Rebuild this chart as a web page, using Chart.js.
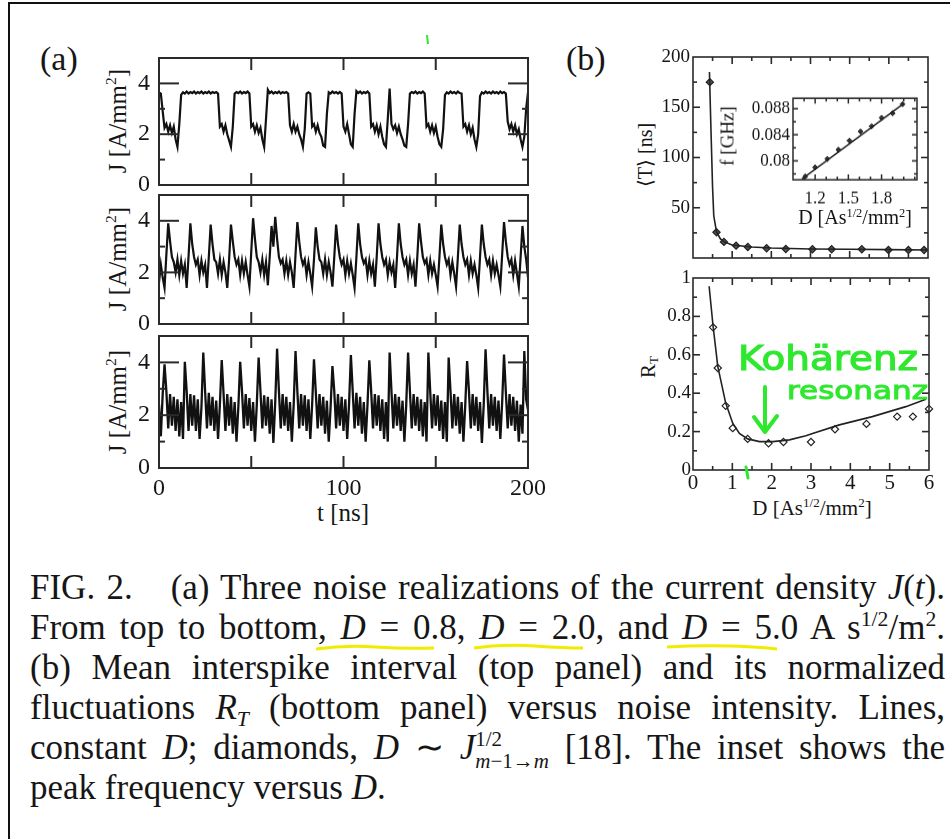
<!DOCTYPE html>
<html lang="en">
<head>
    <meta charset="UTF-8">
    <title>FIG. 2 - current density and interspike statistics</title>
    <script src="https://cdn.jsdelivr.net/npm/chart.js"></script>
    <style>
        body {
            margin: 0;
            width: 950px;
            height: 839px;
            position: relative;
            overflow: hidden;
            background: #fff;
            color: #161616;
            font-family: 'Liberation Serif', 'Times New Roman', serif;
        }
        .edge-top { position: absolute; left: 8px; top: 2px; width: 942px; height: 2px; background: #111; }
        .edge-left { position: absolute; left: 8px; top: 2px; width: 2px; height: 837px; background: #111; }
        canvas { position: absolute; }
        .lbl { position: absolute; white-space: nowrap; line-height: 1; }
        .rot { transform: translate(-50%, -50%) rotate(-90deg); }
        .ctr { transform: translate(-50%, -50%); }
        .lbl sup { font-size: 0.62em; vertical-align: 0.6em; line-height: 0; }
        .lbl sub { font-size: 0.62em; vertical-align: -0.25em; line-height: 0; }
        .caption {
            position: absolute;
            left: 30px;
            top: 568px;
            width: 915px;
            font-size: 35px;
            line-height: 40px;
        }
        .caption div { height: 40px; text-align: justify; text-align-last: justify; }
        .caption div.last { text-align-last: left; }
        .caption sup { font-size: 0.62em; vertical-align: 0.62em; line-height: 0; }
        .caption sub { font-size: 0.62em; vertical-align: -0.3em; line-height: 0; }
        .ss { display: inline-block; vertical-align: -0.42em; font-size: 0.6em; line-height: 1.05; text-align: left; }
        .ss span { display: block; }
        .gap { display: inline-block; width: 38px; }
        svg.ink { position: absolute; left: 0; top: 0; pointer-events: none; z-index: 3; }
    </style>
</head>
<body>
    <div class="edge-top"></div>
    <div class="edge-left"></div>

    <div class="lbl" style="left:40px; top:42px; font-size:34px;">(a)</div>
    <div class="lbl" style="left:566px; top:42px; font-size:34px;">(b)</div>

    <div class="lbl rot" style="left:117px; top:121px; font-size:25px;">J [A/mm<sup>2</sup>]</div>
    <div class="lbl rot" style="left:117px; top:259px; font-size:25px;">J [A/mm<sup>2</sup>]</div>
    <div class="lbl rot" style="left:117px; top:402px; font-size:25px;">J [A/mm<sup>2</sup>]</div>
    <div class="lbl ctr" style="left:343px; top:512px; font-size:25px;">t [ns]</div>

    <div class="lbl rot" style="left:645px; top:155px; font-size:20px;">&#x27E8;T&#x27E9; [ns]</div>
    <div class="lbl rot" style="left:648px; top:367px; font-size:21px;">R<sub>T</sub></div>
    <div class="lbl ctr" style="left:812px; top:508px; font-size:21px;">D [As<sup>1/2</sup>/mm<sup>2</sup>]</div>

    <div id="inset-labels"></div>

    <div class="caption">
        <div>FIG. 2.<span class="gap"></span>(a) Three noise realizations of the current density <i>J</i>(<i>t</i>).</div>
        <div>From top to bottom, <i>D</i> = 0.8, <i>D</i> = 2.0, and <i>D</i> = 5.0 A s<sup>1/2</sup>/m<sup>2</sup>.</div>
        <div>(b) Mean interspike interval (top panel) and its normalized</div>
        <div>fluctuations <i>R<sub>T</sub></i> (bottom panel) versus noise intensity. Lines,</div>
        <div>constant <i>D</i>; diamonds, <i>D</i> &#x223C; <i>J</i><span class="ss"><span>1/2</span><span><i>m</i>&#x2212;1&#x2192;<i>m</i></span></span> [18]. The inset shows the</div>
        <div class="last">peak frequency versus <i>D</i>.</div>
    </div>

    <script>
        // time grid of panel (a), ns
        const tNs = Array.from({ length: 201 }, (_, i) => i);

        // J(t), one value per ns
        const jD08 = [
            3.65, 3.6, 2.9, 2.25, 2.4, 2.1, 2.35, 2.05, 2.3, 1.8,
            1.5, 2.4, 3.55, 3.65, 3.6, 3.68, 3.6, 3.66, 3.62, 3.68,
            3.6, 3.66, 3.62, 3.68, 3.6, 3.66, 3.62, 3.68, 3.6, 3.66,
            3.62, 3.66, 3.6, 2.3, 2.4, 2.1, 2.35, 2.0, 1.75, 1.5,
            2.3, 3.6, 3.66, 3.62, 3.68, 3.6, 3.66, 3.62, 3.68, 3.6,
            2.3, 2.4, 2.1, 2.35, 2.05, 2.25, 1.8, 1.5, 2.6, 3.75,
            3.62, 3.68, 3.6, 3.66, 3.62, 3.68, 3.6, 3.66, 3.62, 3.66,
            3.6, 2.35, 2.1, 2.4, 2.1, 2.3, 2.0, 1.8, 1.5, 2.2,
            3.6, 3.65, 3.6, 2.3, 2.4, 2.1, 2.35, 2.05, 1.9, 1.55,
            1.5, 2.8, 3.65, 3.6, 3.68, 3.62, 3.66, 3.6, 3.66, 3.6,
            2.3, 2.1, 2.4, 2.0, 1.6, 1.5, 2.8, 3.7, 3.62, 3.68,
            3.6, 3.66, 3.62, 3.68, 3.6, 2.3, 2.4, 2.1, 2.35, 2.0,
            2.3, 1.9, 1.6, 1.5, 2.6, 3.8, 2.4, 2.2, 2.35, 2.05,
            2.3, 2.0, 1.8, 1.55, 1.5, 2.4, 3.6, 3.66, 3.62, 3.68,
            3.6, 3.66, 3.62, 3.68, 3.6, 2.3, 2.4, 2.1, 2.35, 2.05,
            2.3, 1.9, 1.6, 1.5, 2.2, 3.55, 3.65, 3.6, 3.68, 3.62,
            3.66, 3.6, 3.68, 3.62, 3.6, 2.3, 2.4, 2.1, 2.35, 2.0,
            2.25, 1.8, 1.5, 2.0, 3.5, 3.65, 3.6, 3.68, 3.62, 3.66,
            3.6, 3.68, 3.62, 3.66, 3.6, 3.68, 3.62, 3.66, 3.6, 2.5,
            2.2, 2.4, 2.1, 2.35, 2.0, 2.2, 1.8, 1.5, 1.9, 3.0,
            3.65
        ];
        const jD20 = [
            1.6, 2.3, 1.8, 1.4, 2.7, 3.9, 3.2, 2.6, 2.4, 2.0,
            2.5, 1.9, 2.45, 1.95, 2.3, 1.4, 2.6, 3.9, 3.1, 2.6,
            2.3, 2.5, 1.9, 2.45, 2.0, 2.3, 1.4, 2.6, 3.85, 3.1,
            2.5, 2.4, 1.95, 2.5, 1.9, 2.4, 2.0, 1.4, 2.5, 3.85,
            3.2, 2.6, 2.3, 2.5, 1.9, 2.45, 1.95, 2.4, 1.9, 1.45,
            2.8, 4.1, 3.3, 2.6, 2.4, 2.0, 2.5, 1.9, 2.4, 1.5,
            2.6, 3.8, 3.0, 4.15, 3.3, 2.6, 2.35, 2.5, 1.95, 2.45,
            1.9, 2.4, 2.0, 1.4, 2.7, 3.95, 3.2, 2.6, 2.3, 2.5,
            1.9, 2.4, 1.95, 1.45, 2.5, 3.75, 3.0, 2.5, 2.4, 1.95,
            2.5, 1.9, 2.4, 2.0, 1.45, 2.6, 3.85, 3.1, 2.6, 2.3,
            2.5, 1.9, 2.45, 1.95, 2.35, 1.9, 1.4, 2.6, 3.9, 3.1,
            2.6, 2.35, 2.5, 1.9, 2.45, 1.95, 2.3, 1.45, 2.6, 3.9,
            3.1, 2.6, 2.3, 2.5, 1.9, 2.4, 2.0, 2.3, 1.4, 2.6,
            3.9, 3.1, 2.6, 2.3, 2.5, 1.9, 2.45, 1.95, 2.3, 1.45,
            2.6, 3.9, 3.2, 2.6, 2.35, 2.5, 1.9, 2.45, 1.95, 2.3,
            1.9, 1.45, 2.6, 3.85, 3.1, 2.6, 2.3, 2.5, 1.9, 2.4,
            1.95, 1.45, 2.6, 3.85, 3.1, 2.6, 2.3, 2.5, 1.9, 2.45,
            1.95, 2.3, 1.9, 1.4, 2.6, 3.85, 3.1, 2.6, 2.3, 2.5,
            1.9, 2.45, 1.95, 2.3, 1.9, 1.45, 2.7, 3.95, 3.2, 2.6,
            2.3, 2.5, 1.9, 2.45, 1.95, 1.45, 2.6, 3.8, 3.0, 2.5,
            1.8
        ];
        const jD50 = [
            2.4, 1.2, 2.8, 3.93, 2.9, 1.5, 2.8, 1.6, 2.7, 1.4,
            2.6, 1.2, 2.5, 1.1, 4.02, 2.9, 1.4, 2.8, 1.6, 2.75,
            1.4, 2.6, 1.1, 2.3, 4.37, 2.9, 1.5, 2.85, 1.6, 2.7,
            1.4, 2.55, 1.1, 2.4, 4.09, 2.8, 1.4, 2.8, 1.6, 2.7,
            1.3, 2.5, 1.0, 2.3, 4.02, 2.9, 1.5, 2.8, 1.6, 2.65,
            1.4, 2.5, 1.0, 2.4, 4.18, 2.9, 1.5, 2.75, 1.6, 2.7,
            1.3, 2.6, 0.95, 2.5, 4.52, 2.9, 1.5, 2.8, 1.6, 2.7,
            1.4, 2.5, 1.0, 2.4, 4.43, 2.9, 1.5, 2.8, 1.6, 2.75,
            1.4, 2.6, 1.1, 2.4, 4.12, 2.85, 1.5, 2.8, 1.6, 2.7,
            1.3, 2.55, 1.0, 2.3, 3.86, 2.9, 1.5, 2.8, 1.6, 2.7,
            1.4, 2.6, 1.1, 2.4, 4.28, 2.9, 1.5, 2.85, 1.6, 2.7,
            1.3, 2.5, 1.0, 2.4, 4.08, 2.9, 1.5, 2.8, 1.6, 2.75,
            1.4, 2.6, 1.1, 2.5, 1.0, 4.37, 2.9, 1.5, 2.8, 1.6,
            2.7, 1.4, 2.55, 1.0, 2.4, 4.37, 2.9, 1.5, 2.8, 1.6,
            2.7, 1.4, 2.6, 1.2, 2.5, 1.0, 4.37, 2.9, 1.5, 2.8,
            1.6, 2.75, 1.4, 2.55, 1.1, 2.5, 1.0, 4.18, 2.9, 1.5,
            2.8, 1.6, 2.7, 1.3, 2.5, 1.0, 2.4, 4.05, 2.9, 1.5,
            2.8, 1.6, 2.7, 1.4, 2.5, 0.95, 2.4, 4.5, 2.9, 1.5,
            2.8, 1.6, 2.7, 1.4, 2.55, 1.1, 2.5, 4.3, 2.85, 1.5,
            2.8, 1.6, 2.7, 1.4, 2.55, 1.0, 2.4, 1.3, 4.43, 2.6,
            2.2
        ];

        // (b) top: mean interspike interval <T> vs D
        const tLineD = [0.42, 0.45, 0.5, 0.53, 0.6, 0.7, 0.8, 1.0, 1.5, 2.0, 3.0, 4.0, 5.0, 6.0];
        const tLine = [185, 140, 70, 42, 26, 19, 16, 13, 11, 10, 9, 8.7, 8.3, 8];
        const tDiaD = [0.43, 0.6, 0.79, 1.1, 1.4, 1.88, 2.37, 3.05, 3.54, 4.31, 4.99, 5.5, 5.9];
        const tDia = [175, 25.6, 16, 12.3, 11, 9.7, 9, 8.7, 8.7, 8.7, 8, 8, 8];

        // inset: peak frequency vs D
        const fDiaD = [1.11, 1.2, 1.31, 1.41, 1.51, 1.61, 1.71, 1.8, 1.9, 1.99];
        const fDia = [0.0776, 0.079, 0.0803, 0.0817, 0.0831, 0.0845, 0.0853, 0.0866, 0.0873, 0.0887];
        const fLineD = [1.08, 2.0];
        const fLine = [0.0772, 0.0888];

        // (b) bottom: normalized fluctuations R_T vs D
        const rLineD = [0.41, 0.51, 0.63, 0.83, 1.01, 1.18, 1.39, 1.69, 2.03, 2.45, 2.87, 3.04, 3.72, 4.56, 5.41, 5.92];
        const rLine = [0.957, 0.75, 0.54, 0.35, 0.244, 0.19, 0.162, 0.148, 0.148, 0.157, 0.178, 0.19, 0.235, 0.278, 0.33, 0.369];
        const rDiaD = [0.51, 0.63, 0.83, 1.01, 1.39, 1.92, 2.3, 3.0, 3.61, 4.41, 5.19, 5.59, 6.0];
        const rDia = [0.743, 0.531, 0.334, 0.218, 0.162, 0.139, 0.146, 0.146, 0.212, 0.24, 0.278, 0.278, 0.318];

        const pts = (xs, ys) => xs.map((x, i) => ({ x: x, y: ys[i] }));
        const INK = '#161616';

        // frame box with inward ticks on all four sides
        const framePlugin = {
            id: 'frame',
            beforeDraw(chart, args, o) {
                if (!o.fill) return;
                const a = chart.chartArea;
                chart.ctx.save();
                chart.ctx.fillStyle = o.fill;
                chart.ctx.fillRect(a.left, a.top, a.right - a.left, a.bottom - a.top);
                chart.ctx.restore();
            },
            afterDatasetsDraw(chart, args, o) {
                const { ctx, chartArea: a, scales } = chart;
                ctx.save();
                ctx.strokeStyle = '#2a2a2a';
                ctx.lineWidth = o.lw || 1.6;
                const seg = (x1, y1, x2, y2) => { ctx.beginPath(); ctx.moveTo(x1, y1); ctx.lineTo(x2, y2); ctx.stroke(); };
                const mark = (scale, vals, len) => {
                    (vals || []).forEach(v => {
                        const p = scale.getPixelForValue(v);
                        if (scale.isHorizontal()) {
                            seg(p, a.bottom, p, a.bottom - len);
                            seg(p, a.top, p, a.top + len);
                        } else {
                            seg(a.left, p, a.left + len, p);
                            seg(a.right, p, a.right - len, p);
                        }
                    });
                };
                mark(scales.x, o.xMajor, o.xLen[0]);
                mark(scales.x, o.xMinor, o.xLen[1]);
                mark(scales.y, o.yMajor, o.yLen[0]);
                mark(scales.y, o.yMinor, o.yLen[1]);
                ctx.strokeRect(a.left, a.top, a.right - a.left, a.bottom - a.top);
                ctx.restore();
            }
        };

        function axis(a, isX, size) {
            return {
                type: 'linear',
                min: a.min,
                max: a.max,
                grid: { display: false, drawTicks: false },
                border: { display: false },
                afterBuildTicks: s => { s.ticks = a.labels.map(v => ({ value: v })); },
                afterFit: s => { if (isX) s.height = size; else s.width = size; },
                ticks: {
                    display: !!a.show,
                    padding: a.pad || 3,
                    color: INK,
                    font: { family: 'Liberation Serif', size: a.size || 20 },
                    callback: v => String(v)
                }
            };
        }

        function panel(box, cfg) {
            const c = document.createElement('canvas');
            let cl = box.l - box.yW, ct = box.t - box.padT;
            let cw = box.w + box.yW + box.padR, ch = box.h + box.padT + box.xH;
            c.width = cw;
            c.height = ch;
            c.style.left = cl + 'px';
            c.style.top = ct + 'px';
            c.style.width = cw + 'px';
            c.style.height = ch + 'px';
            document.body.appendChild(c);
            const chart = new Chart(c, {
                type: 'scatter',
                data: { datasets: cfg.datasets },
                options: {
                    responsive: false,
                    animation: false,
                    devicePixelRatio: 1,
                    layout: { padding: { top: box.padT, right: box.padR, left: 0, bottom: 0 } },
                    plugins: { legend: { display: false }, tooltip: { enabled: false }, frame: cfg.frame },
                    scales: { x: axis(cfg.x, true, box.xH), y: axis(cfg.y, false, box.yW) }
                },
                plugins: [framePlugin]
            });
            // label overflow can shrink the plot area; grow the canvas so the frame sits where the scan has it
            for (let k = 0; k < 3; k++) {
                const a = chart.chartArea;
                cl = box.l - a.left;
                ct = box.t - a.top;
                cw = Math.round(a.left + box.w + (cw - a.right));
                ch = Math.round(a.top + box.h + (ch - a.bottom));
                c.style.left = cl + 'px';
                c.style.top = ct + 'px';
                chart.resize(cw, ch);
                c.style.width = cw + 'px';
                c.style.height = ch + 'px';
            }
            return chart;
        }

        const traceSet = (ys, lw) => [{
            data: pts(tNs, ys),
            showLine: true,
            pointRadius: 0,
            borderColor: '#111',
            borderWidth: lw,
            borderJoinStyle: 'miter',
            tension: 0
        }];
        const aFrame = { xMajor: [50, 100, 150], xLen: [12, 0], yMajor: [2, 4], yMinor: [1, 3], yLen: [20, 6], lw: 2 };
        const aY = { min: 0, max: 5, labels: [0, 2, 4], show: true, size: 24, pad: 9 };

        // panel (a): three noise realizations
        panel({ l: 159, t: 58, w: 369, h: 127, yW: 40, xH: 30, padT: 30, padR: 30 }, {
            datasets: traceSet(jD08, 2.2), frame: aFrame, y: aY,
            x: { min: 0, max: 200, labels: [0, 100, 200] }
        });
        panel({ l: 159, t: 195, w: 369, h: 129, yW: 40, xH: 30, padT: 30, padR: 30 }, {
            datasets: traceSet(jD20, 2.2), frame: aFrame, y: aY,
            x: { min: 0, max: 200, labels: [0, 100, 200] }
        });
        panel({ l: 159, t: 336, w: 369, h: 132, yW: 40, xH: 50, padT: 30, padR: 30 }, {
            datasets: traceSet(jD50, 2.3), frame: aFrame, y: aY,
            x: { min: 0, max: 200, labels: [0, 100, 200], show: true, size: 24, pad: 6 }
        });

        const dMajor = [1, 2, 3, 4, 5];
        const dMinor = [0.5, 1.5, 2.5, 3.5, 4.5, 5.5];

        // panel (b) top
        panel({ l: 693, t: 57, w: 235, h: 201, yW: 48, xH: 20, padT: 20, padR: 12 }, {
            datasets: [
                { data: pts(tLineD, tLine), showLine: true, pointRadius: 0, borderColor: '#222', borderWidth: 1.6 },
                { data: pts(tDiaD, tDia), pointStyle: 'rectRot', pointRadius: 3.6, backgroundColor: '#555', borderColor: '#222', borderWidth: 1.2, clip: false }
            ],
            frame: { xMajor: dMajor, xMinor: dMinor, xLen: [7, 4], yMajor: [50, 100, 150], yMinor: [25, 75, 125, 175], yLen: [7, 4] },
            x: { min: 0, max: 6, labels: [0, 1, 2, 3, 4, 5, 6] },
            y: { min: 0, max: 200, labels: [50, 100, 150, 200], show: true, size: 19, pad: 3 }
        });

        // inset: peak frequency
        panel({ l: 793, t: 97, w: 124, h: 79, yW: 56, xH: 30, padT: 10, padR: 8 }, {
            datasets: [
                { data: pts(fLineD, fLine), showLine: true, pointRadius: 0, borderColor: '#222', borderWidth: 1.4 },
                { data: pts(fDiaD, fDia), pointStyle: 'rectRot', pointRadius: 2.4, backgroundColor: '#333', borderColor: '#222', borderWidth: 1 }
            ],
            frame: { fill: '#fff', xMajor: [1.2, 1.5, 1.8], xMinor: [1.1, 1.3, 1.4, 1.6, 1.7, 1.9, 2.0, 2.1], xLen: [5, 3],
                     yMajor: [0.08, 0.084, 0.088], yMinor: [0.078, 0.082, 0.086], yLen: [5, 3], lw: 1.5 },
            x: { min: 1.0, max: 2.12, labels: [1.2, 1.5, 1.8], show: true, size: 17, pad: 7 },
            y: { min: 0.0771, max: 0.0896, labels: [0.08, 0.084, 0.088], show: true, size: 17, pad: 3 }
        });

        // panel (b) bottom
        panel({ l: 693, t: 278, w: 236, h: 192, yW: 48, xH: 34, padT: 20, padR: 12 }, {
            datasets: [
                { data: pts(rLineD, rLine), showLine: true, pointRadius: 0, borderColor: '#222', borderWidth: 1.6 },
                { data: pts(rDiaD, rDia), pointStyle: 'rectRot', pointRadius: 3.6, backgroundColor: '#fff', borderColor: '#222', borderWidth: 1.2, clip: false }
            ],
            frame: { xMajor: dMajor, xMinor: dMinor, xLen: [7, 4], yMajor: [0.2, 0.4, 0.6, 0.8], yMinor: [0.1, 0.3, 0.5, 0.7, 0.9], yLen: [7, 4] },
            x: { min: 0, max: 6, labels: [0, 1, 2, 3, 4, 5, 6], show: true, size: 21, pad: 1 },
            y: { min: 0, max: 1, labels: [0, 0.2, 0.4, 0.6, 0.8, 1], show: true, size: 19, pad: 2 }
        });

        // inset axis titles go above the canvases
        document.getElementById('inset-labels').outerHTML =
            '<div class="lbl rot" style="left:727px; top:136px; font-size:19px; z-index:2;">f [GHz]</div>' +
            '<div class="lbl ctr" style="left:855px; top:217px; font-size:20px; z-index:2;">D [As<sup>1/2</sup>/mm<sup>2</sup>]</div>';
    </script>

    <!-- hand-drawn marks on the scan -->
    <svg class="ink" width="950" height="839">
        <path d="M427 35 L428 44" stroke="#2ee82e" stroke-width="2" fill="none"/>
        <text x="738" y="370" textLength="180" lengthAdjust="spacingAndGlyphs" font-family="DejaVu Sans" font-size="34" fill="#2ee82e" stroke="#2ee82e" stroke-width="1.2">Kohärenz</text>
        <text x="787" y="399" textLength="141" lengthAdjust="spacingAndGlyphs" font-family="DejaVu Sans" font-size="25" fill="#2ee82e" stroke="#2ee82e" stroke-width="1">resonanz</text>
        <path d="M765 387 L765 431 M754 417 L765 432 L777 416" stroke="#2ee82e" stroke-width="4" fill="none" stroke-linecap="round" stroke-linejoin="round"/>
        <path d="M746 467 L748 478" stroke="#2ee82e" stroke-width="3" fill="none" stroke-linecap="round"/>
        <path d="M316 649 Q345 645 375 647 T434 648" stroke="#f0ec00" stroke-width="3" fill="none"/>
        <path d="M474 648 Q505 644 535 646 T583 648" stroke="#f0ec00" stroke-width="3" fill="none"/>
        <path d="M667 647 Q700 645 730 646 T777 649" stroke="#f0ec00" stroke-width="3" fill="none"/>
    </svg>
</body>
</html>
